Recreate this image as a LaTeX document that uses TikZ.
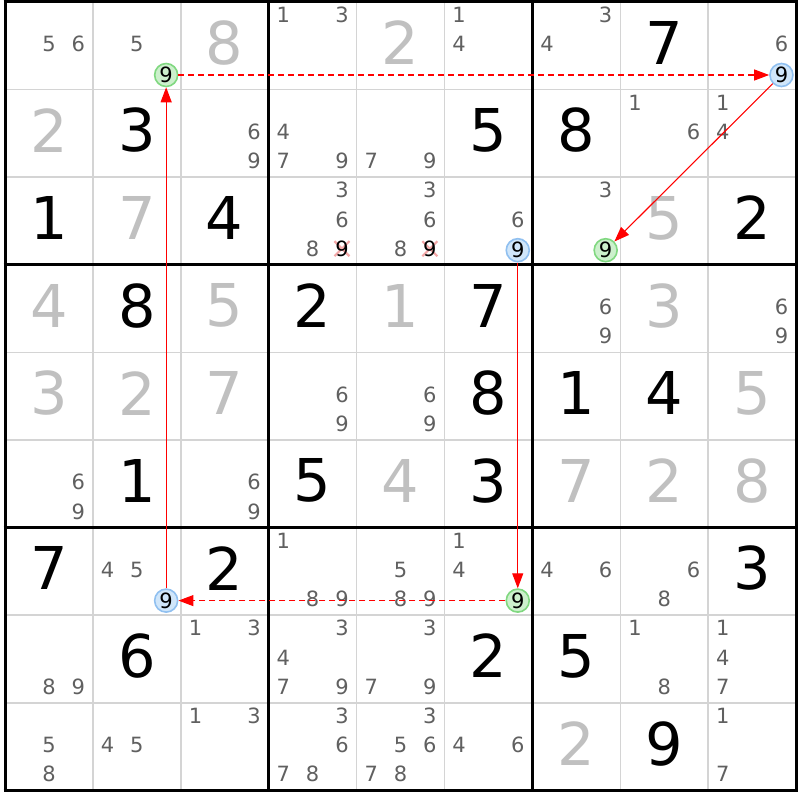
\documentclass[tikz,border=0pt]{standalone}
\usepackage{fontspec}
\setmainfont{DejaVu Sans}
\usetikzlibrary{arrows.meta}
\definecolor{candgray}{HTML}{606060}
\definecolor{solvgray}{HTML}{C0C0C0}
\definecolor{gridgray}{HTML}{D4D4D4}
\definecolor{hgfill}{HTML}{CCF0CC}
\definecolor{hgline}{HTML}{80D880}
\definecolor{hbfill}{HTML}{D0E6FA}
\definecolor{hbline}{HTML}{90C0F0}
\definecolor{strikecol}{HTML}{F4A8A8}
\def\ox{5}
\def\oy{2}
\def\cw{87.9}
\def\ch{87.6}
\tikzset{
  bigdigit/.style={inner sep=0pt, font=\fontsize{59}{59}\selectfont},
  givenstyle/.style={bigdigit, text=black},
  solvedstyle/.style={bigdigit, text=solvgray},
  candstyle/.style={inner sep=0pt, font=\fontsize{21}{21}\selectfont, text=candgray},
  hlbase/.style={circle, inner sep=0pt, minimum size=23pt, line width=1.6pt, font=\fontsize{21}{21}\selectfont, text=black},
  hlg/.style={hlbase, fill=hgfill, draw=hgline},
  hlb/.style={hlbase, fill=hbfill, draw=hbline},
  thinline/.style={draw=gridgray, line width=1.5pt},
  thickline/.style={draw=black, line width=3pt},
  redarrow/.style={draw=red, line width=1.1pt, -{Triangle[length=15pt,width=11pt]}},
  dashline/.style={dash pattern=on 6pt off 4pt},
  strikeline/.style={draw=strikecol, line width=2.2pt}
}
\begin{document}
\begin{tikzpicture}[x=1pt,y=-1pt]
\useasboundingbox[fill=white] (0,0) rectangle (800,800);
% thin grid lines
\foreach \i in {1,2,4,5,7,8} {
  \draw[thinline] ({\ox+\i*\cw},\oy) -- ({\ox+\i*\cw},{\oy+9*\ch});
  \draw[thinline] (\ox,{\oy+\i*\ch}) -- ({\ox+9*\cw},{\oy+\i*\ch});
}
% thick grid lines
\foreach \i in {0,3,6,9} {
  \draw[thickline] ({\ox+\i*\cw},{\oy-1.5}) -- ({\ox+\i*\cw},{\oy+9*\ch+1.5});
  \draw[thickline] ({\ox-1.5},{\oy+\i*\ch}) -- ({\ox+9*\cw+1.5},{\oy+\i*\ch});
}
% given digits
\foreach \r/\c/\d in {1/8/7, 2/2/3, 2/6/5, 2/7/8, 3/1/1, 3/3/4, 3/9/2,
  4/2/8, 4/4/2, 4/6/7, 5/6/8, 5/7/1, 5/8/4, 6/2/1, 6/4/5, 6/6/3,
  7/1/7, 7/3/2, 7/9/3, 8/2/6, 8/6/2, 8/7/5, 9/8/9} {
  \node[givenstyle] (g\r\c) at ({\ox+(\c-0.5)*\cw},{\oy+(\r-0.5)*\ch-3}) {\d};
}
% solved digits
\foreach \r/\c/\d in {1/3/8, 1/5/2, 2/1/2, 3/2/7, 3/8/5, 4/1/4, 4/3/5, 4/5/1, 4/8/3,
  5/1/3, 5/2/2, 5/3/7, 5/9/5, 6/5/4, 6/7/7, 6/8/2, 6/9/8, 9/7/2} {
  \node[solvedstyle] (s\r\c) at ({\ox+(\c-0.5)*\cw},{\oy+(\r-0.5)*\ch-3}) {\d};
}
% candidates
\foreach \r/\c/\ds in {1/1/{5,6}, 1/2/{5}, 1/4/{1,3}, 1/6/{1,4}, 1/7/{3,4}, 1/9/{6},
  2/3/{6,9}, 2/4/{4,7,9}, 2/5/{7,9}, 2/8/{1,6}, 2/9/{1,4},
  3/4/{3,6,8}, 3/5/{3,6,8}, 3/6/{6}, 3/7/{3},
  4/7/{6,9}, 4/9/{6,9}, 5/4/{6,9}, 5/5/{6,9}, 6/1/{6,9}, 6/3/{6,9},
  7/2/{4,5}, 7/4/{1,8,9}, 7/5/{5,8,9}, 7/6/{1,4}, 7/7/{4,6}, 7/8/{6,8},
  8/1/{8,9}, 8/3/{1,3}, 8/4/{3,4,7,9}, 8/5/{3,7,9}, 8/8/{1,8}, 8/9/{1,4,7},
  9/1/{5,8}, 9/2/{4,5}, 9/3/{1,3}, 9/4/{3,6,7,8}, 9/5/{3,5,6,7,8}, 9/6/{4,6}, 9/9/{1,7}} {
  \foreach \k in \ds {
    \pgfmathtruncatemacro\cc{mod(\k-1,3)}
    \pgfmathtruncatemacro\rr{floor((\k-1)/3)}
    \node[candstyle] (c\r\c\k) at ({\ox+(\c-1)*\cw+(2*\cc+1)*\cw/6},{\oy+(\r-1)*\ch+(2*\rr+1)*\ch/6-1.5}) {\k};
  }
}
% struck candidates 9
\foreach \c in {4,5} {
  \coordinate (xc3\c) at ({\ox+(\c-1)*\cw+5*\cw/6},{\oy+2*\ch+5*\ch/6-1.5});
  \draw[strikeline] ([shift={(-7.5,-7.5)}]xc3\c) -- ([shift={(7.5,7.5)}]xc3\c);
  \draw[strikeline] ([shift={(-7.5,7.5)}]xc3\c) -- ([shift={(7.5,-7.5)}]xc3\c);
  \node[candstyle, text=black] (x3\c) at (xc3\c) {9};
}
% highlighted candidates 9
\foreach \r/\c/\t in {1/2/hlg, 1/9/hlb, 3/6/hlb, 3/7/hlg, 7/2/hlb, 7/6/hlg} {
  \node[\t] (h\r\c) at ({\ox+(\c-1)*\cw+5*\cw/6},{\oy+(\r-1)*\ch+5*\ch/6}) {9};
}
% chain arrows
\draw[redarrow, dashline] (h12) -- (h19);
\draw[redarrow] (h19) -- (h37);
\draw[redarrow] (h36) -- (h76);
\draw[redarrow, dashline] (h76) -- (h72);
\draw[redarrow] (h72) -- (h12);
\end{tikzpicture}
\end{document}
